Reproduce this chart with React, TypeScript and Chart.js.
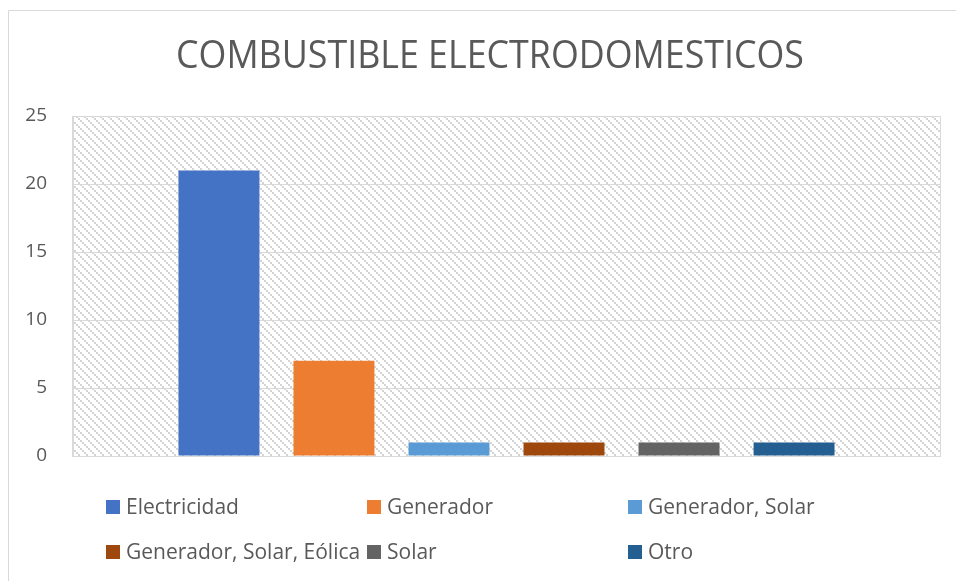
import React, { useEffect, useRef } from "react";
import { Chart, registerables } from "chart.js";

Chart.register(...registerables);

// Chart data
const chartTitle = "COMBUSTIBLE ELECTRODOMESTICOS";
const categories = [""];
const seriesNames = [
  "Electricidad",
  "Generador",
  "Generador, Solar",
  "Generador, Solar, Eólica",
  "Solar",
  "Otro",
];
const seriesValues = [21, 7, 1, 1, 1, 1];
const seriesColors = ["#4472C4", "#ED7D31", "#5B9BD5", "#9E480E", "#636363", "#255E91"];
const yTicks = [0, 5, 10, 15, 20, 25];

const TEXT_COLOR = "#595959";
const GRID_COLOR = "#d9d9d9";
const FONT = "'Open Sans', 'Liberation Sans', sans-serif";

// 8x8 tile: a staircase of 2x2 dots running down to the right
function makeHatch(): CanvasPattern | string {
  const tile = document.createElement("canvas");
  tile.width = 8;
  tile.height = 8;
  const t = tile.getContext("2d");
  if (!t) return "#ffffff";
  t.fillStyle = "#ffffff";
  t.fillRect(0, 0, 8, 8);
  t.fillStyle = "#d4d4d4";
  for (let k = 0; k < 4; k++) t.fillRect(2 * k, 2 * k, 2, 2);
  const main = document.createElement("canvas").getContext("2d");
  return main ? (main.createPattern(tile, "repeat") as CanvasPattern) : "#ffffff";
}

// Frame, hatched plot background and title
const backdropPlugin = {
  id: "backdrop",
  beforeDraw(chart: any) {
    const { ctx, chartArea, width, height } = chart;
    ctx.save();
    ctx.fillStyle = "#ffffff";
    ctx.fillRect(0, 0, width, height);
    // outer frame
    ctx.strokeStyle = GRID_COLOR;
    ctx.lineWidth = 1;
    ctx.beginPath();
    ctx.moveTo(8.5, height);
    ctx.lineTo(8.5, 10.5);
    ctx.lineTo(width, 10.5);
    ctx.stroke();
    // hatched plot area
    ctx.fillStyle = makeHatch();
    ctx.fillRect(chartArea.left, chartArea.top, chartArea.right - chartArea.left, chartArea.bottom - chartArea.top);
    // title, narrowed to a condensed width
    ctx.fillStyle = TEXT_COLOR;
    ctx.font = `39px ${FONT}`;
    ctx.textBaseline = "alphabetic";
    ctx.textAlign = "left";
    const w = ctx.measureText(chartTitle).width;
    const target = 628;
    const sx = target / w;
    ctx.translate(490 - target / 2, 68);
    ctx.scale(sx, 1);
    ctx.fillText(chartTitle, 0, 0);
    ctx.restore();
  },
  afterDraw(chart: any) {
    const { ctx, chartArea } = chart;
    ctx.save();
    // plot area border
    ctx.strokeStyle = GRID_COLOR;
    ctx.lineWidth = 1;
    ctx.strokeRect(chartArea.left - 0.5, chartArea.top + 0.5, chartArea.right - chartArea.left + 1, chartArea.bottom - chartArea.top);
    // legend in three columns
    const colX = [106, 367, 628];
    const rowY = [507, 552];
    ctx.font = `21px ${FONT}`;
    ctx.textBaseline = "middle";
    ctx.textAlign = "left";
    chart.data.datasets.forEach((ds: any, i: number) => {
      const x = colX[i % 3];
      const y = rowY[Math.floor(i / 3)];
      ctx.fillStyle = ds.backgroundColor;
      ctx.fillRect(x, y - 7, 14, 14);
      ctx.fillStyle = TEXT_COLOR;
      ctx.fillText(ds.label, x + 20, y + 1);
    });
    ctx.restore();
  },
};

export default function App() {
  const canvasRef = useRef<HTMLCanvasElement | null>(null);

  useEffect(() => {
    document.body.style.margin = "0";
    const canvas = canvasRef.current;
    if (!canvas) return;
    const chart = new Chart(canvas, {
      type: "bar",
      data: {
        labels: categories,
        datasets: seriesNames.map((name, i) => ({
          label: name,
          data: [seriesValues[i]],
          backgroundColor: seriesColors[i],
          borderWidth: 0,
          categoryPercentage: 0.796,
          barPercentage: 0.704,
        })),
      },
      options: {
        responsive: false,
        animation: false,
        layout: { padding: { top: 116, right: 16, bottom: 125, left: 0 } },
        plugins: {
          legend: { display: false },
          title: { display: false },
          tooltip: { enabled: false },
        },
        scales: {
          x: { display: false },
          y: {
            min: 0,
            max: 25,
            afterBuildTicks: (scale: any) => {
              scale.ticks = yTicks.map((v) => ({ value: v }));
            },
            afterFit: (scale: any) => {
              scale.width = 73;
            },
            ticks: {
              color: TEXT_COLOR,
              font: { family: FONT, size: 19 },
              padding: 26,
            },
            grid: { color: GRID_COLOR, drawTicks: false, lineWidth: 1 },
            border: { display: true, color: GRID_COLOR },
          },
        },
      },
      plugins: [backdropPlugin],
    });
    return () => chart.destroy();
  }, []);

  return (
    <div style={{ width: 956, height: 581, position: "relative" }}>
      <canvas ref={canvasRef} width={956} height={581} />
    </div>
  );
}
